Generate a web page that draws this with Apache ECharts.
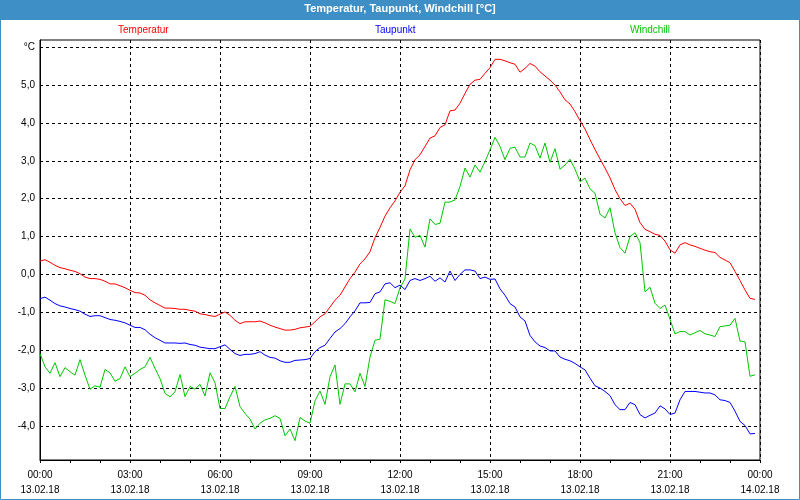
<!DOCTYPE html>
<html>
<head>
<meta charset="utf-8">
<script src="https://cdn.jsdelivr.net/npm/echarts@6/dist/echarts.min.js"></script>
<style>
html,body{margin:0;padding:0;background:#ffffff;}
#chart{width:800px;height:500px;}
</style>
</head>
<body>
<div id="chart"></div>
<script>
// 10-minute samples starting 13.02.18 00:00
const STEP_MINUTES = 10;

const temperatur = [
 0.35, 0.39, 0.32, 0.24, 0.18, 0.15, 0.11, 0.08, 0.02, -0.07, -0.11, -0.11, -0.13, -0.18, -0.25, -0.25, -0.30, -0.35,
 -0.42, -0.48, -0.49, -0.55, -0.67, -0.75, -0.82, -0.89, -0.89, -0.90, -0.92, -0.92, -0.95, -0.97, -1.04, -1.06, -1.09, -1.11,
 -1.05, -0.99, -1.08, -1.21, -1.30, -1.25, -1.25, -1.25, -1.23, -1.28, -1.34, -1.39, -1.43, -1.47, -1.47, -1.45, -1.41, -1.39,
 -1.37, -1.25, -1.12, -1.04, -0.86, -0.68, -0.55, -0.33, -0.11, 0.06, 0.28, 0.41, 0.60, 0.97, 1.24, 1.54, 1.76, 1.94,
 2.17, 2.34, 2.76, 3.03, 3.16, 3.38, 3.60, 3.66, 3.88, 3.95, 4.32, 4.34, 4.52, 4.78, 5.02, 5.13, 5.15, 5.31,
 5.46, 5.68, 5.68, 5.64, 5.59, 5.55, 5.34, 5.44, 5.57, 5.50, 5.35, 5.24, 5.13, 5.00, 4.82, 4.61, 4.50, 4.30,
 4.06, 3.84, 3.56, 3.30, 3.05, 2.81, 2.55, 2.24, 2.00, 1.82, 1.88, 1.72, 1.37, 1.19, 1.13, 1.06, 1.03, 0.88,
 0.65, 0.56, 0.78, 0.84, 0.78, 0.74, 0.69, 0.64, 0.60, 0.58, 0.45, 0.38, 0.31, 0.08, -0.16, -0.41, -0.63, -0.66
];

const taupunkt = [
 -0.64, -0.60, -0.68, -0.77, -0.83, -0.86, -0.90, -0.93, -0.97, -1.05, -1.11, -1.09, -1.09, -1.14, -1.19, -1.21, -1.24, -1.28,
 -1.34, -1.40, -1.40, -1.46, -1.58, -1.67, -1.74, -1.81, -1.81, -1.81, -1.82, -1.81, -1.85, -1.87, -1.92, -1.94, -1.96, -1.96,
 -1.91, -1.86, -1.98, -2.09, -2.14, -2.11, -2.11, -2.09, -2.04, -2.13, -2.19, -2.21, -2.28, -2.32, -2.32, -2.27, -2.26, -2.25,
 -2.22, -2.04, -1.93, -1.87, -1.69, -1.52, -1.43, -1.30, -1.12, -0.96, -0.75, -0.75, -0.74, -0.51, -0.46, -0.25, -0.22, -0.35,
 -0.28, -0.40, -0.16, -0.11, -0.16, -0.11, -0.05, -0.18, -0.09, -0.20, 0.09, -0.16, 0.00, 0.12, 0.12, 0.09, -0.11, -0.07,
 -0.13, -0.12, -0.38, -0.55, -0.77, -0.86, -1.12, -1.23, -1.61, -1.78, -1.89, -1.93, -2.02, -2.02, -2.18, -2.24, -2.28, -2.35,
 -2.44, -2.52, -2.74, -2.94, -3.00, -3.09, -3.20, -3.44, -3.57, -3.57, -3.38, -3.44, -3.70, -3.79, -3.72, -3.66, -3.47, -3.55,
 -3.70, -3.66, -3.31, -3.09, -3.09, -3.09, -3.11, -3.13, -3.13, -3.18, -3.31, -3.33, -3.38, -3.61, -3.88, -3.99, -4.21, -4.20
];

const windchill = [
 -2.09, -2.44, -2.61, -2.33, -2.70, -2.46, -2.57, -2.66, -2.25, -2.66, -3.03, -2.94, -2.98, -2.51, -2.60, -2.82, -2.75, -2.44,
 -2.70, -2.61, -2.51, -2.44, -2.19, -2.48, -2.75, -3.14, -3.23, -3.10, -2.64, -3.23, -2.96, -3.03, -2.90, -3.21, -2.60, -2.86,
 -3.54, -3.54, -3.23, -2.96, -3.49, -3.67, -3.82, -4.08, -3.93, -3.84, -3.80, -3.73, -3.80, -4.26, -4.08, -4.39, -3.78, -3.87,
 -3.93, -3.34, -3.08, -3.43, -2.70, -2.39, -3.43, -2.89, -2.89, -3.10, -2.61, -2.96, -2.18, -1.74, -1.71, -0.67, -0.71, -0.77,
 -0.35, -0.12, 1.20, 0.98, 1.03, 0.72, 1.47, 1.32, 1.35, 1.91, 1.91, 1.97, 2.32, 2.81, 2.57, 2.89, 2.70, 2.98,
 3.29, 3.62, 3.38, 3.03, 3.33, 3.36, 3.10, 3.10, 3.47, 3.40, 3.07, 3.47, 2.96, 3.32, 2.78, 2.89, 3.04, 2.78,
 2.45, 2.54, 2.26, 2.14, 1.59, 1.49, 1.76, 1.10, 0.71, 0.56, 1.00, 1.10, 0.84, -0.46, -0.34, -0.76, -0.90, -0.81,
 -1.19, -1.57, -1.51, -1.51, -1.60, -1.54, -1.48, -1.57, -1.60, -1.64, -1.38, -1.36, -1.34, -1.16, -1.76, -1.78, -2.69, -2.65
];

const xTickTimes = ['00:00','03:00','06:00','09:00','12:00','15:00','18:00','21:00','00:00'];
const xTickDates = ['13.02.18','13.02.18','13.02.18','13.02.18','13.02.18','13.02.18','13.02.18','13.02.18','14.02.18'];
const yTickValues = [-4, -3, -2, -1, 0, 1, 2, 3, 4, 5, 6];
const yUnitLabel = '°C';

const seriesNames = ['Temperatur', 'Taupunkt', 'Windchill'];
const seriesColors = ['#ff0000', '#0000ff', '#00c800'];

function toPairs(arr) {
  return arr.map((v, i) => [i * STEP_MINUTES / 60, v]);
}

const FONT = 'Liberation Sans';
const chart = echarts.init(document.getElementById('chart'), null, {renderer: 'canvas'});

const legendLefts = [113, 370, 625];

chart.setOption({
  animation: false,
  backgroundColor: '#ffffff',
  textStyle: {fontFamily: FONT},
  graphic: [
    {type: 'rect', z: -1, shape: {x: 0, y: 0, width: 800, height: 20}, style: {fill: '#3d8fc6'}},
    {type: 'rect', z: -1, shape: {x: 0.5, y: 0.5, width: 799, height: 499}, style: {fill: 'none', stroke: '#3d8fc6', lineWidth: 1}}
  ],
  title: {
    text: 'Temperatur, Taupunkt, Windchill [°C]',
    left: 'center',
    top: 3,
    padding: 0,
    z: 10,
    textStyle: {color: '#ffffff', fontSize: 11, fontWeight: 'bold', fontFamily: FONT}
  },
  legend: seriesNames.map((name, i) => ({
    data: [name],
    left: legendLefts[i],
    top: 25,
    padding: 0,
    icon: 'none',
    itemWidth: 0,
    itemHeight: 10,
    selectedMode: false,
    textStyle: {color: seriesColors[i], fontSize: 10, fontFamily: FONT}
  })),
  grid: {
    left: 40, top: 40, width: 720, height: 420,
    show: true, borderColor: '#000000', borderWidth: 1, backgroundColor: 'transparent'
  },
  xAxis: {
    type: 'value',
    min: 0, max: 24, interval: 3,
    axisLine: {show: true, onZero: false, lineStyle: {color: '#000000', width: 1}},
    axisTick: {show: true, inside: false, length: 3, lineStyle: {color: '#000000'}},
    minorTick: {show: true, splitNumber: 3, length: 3, lineStyle: {color: '#000000'}},
    splitLine: {show: true, lineStyle: {color: '#000000', type: [3, 3], width: 1}},
    axisLabel: {
      margin: 8,
      color: '#000000',
      fontSize: 10,
      fontFamily: FONT,
      lineHeight: 15,
      formatter: function (v) {
        const k = Math.round(v / 3);
        return xTickTimes[k] + '\n' + xTickDates[k];
      }
    }
  },
  yAxis: {
    type: 'value',
    min: -4.9, max: 6.19,
    axisLine: {show: true, onZero: false, lineStyle: {color: '#000000', width: 1}},
    axisTick: {show: false, customValues: yTickValues},
    splitLine: {show: true, lineStyle: {color: '#000000', type: [3, 3], width: 1}},
    axisLabel: {
      customValues: yTickValues,
      margin: 5,
      color: '#000000',
      fontSize: 10,
      fontFamily: FONT,
      formatter: function (v) {
        if (Math.abs(v - 6) < 1e-6) return yUnitLabel;
        return v.toFixed(1).replace('.', ',');
      }
    }
  },
  series: [temperatur, taupunkt, windchill].map((arr, i) => ({
    name: seriesNames[i],
    type: 'line',
    data: toPairs(arr),
    showSymbol: false,
    symbol: 'none',
    color: seriesColors[i],
    lineStyle: {color: seriesColors[i], width: 1},
    emphasis: {disabled: true}
  }))
});
</script>
</body>
</html>
